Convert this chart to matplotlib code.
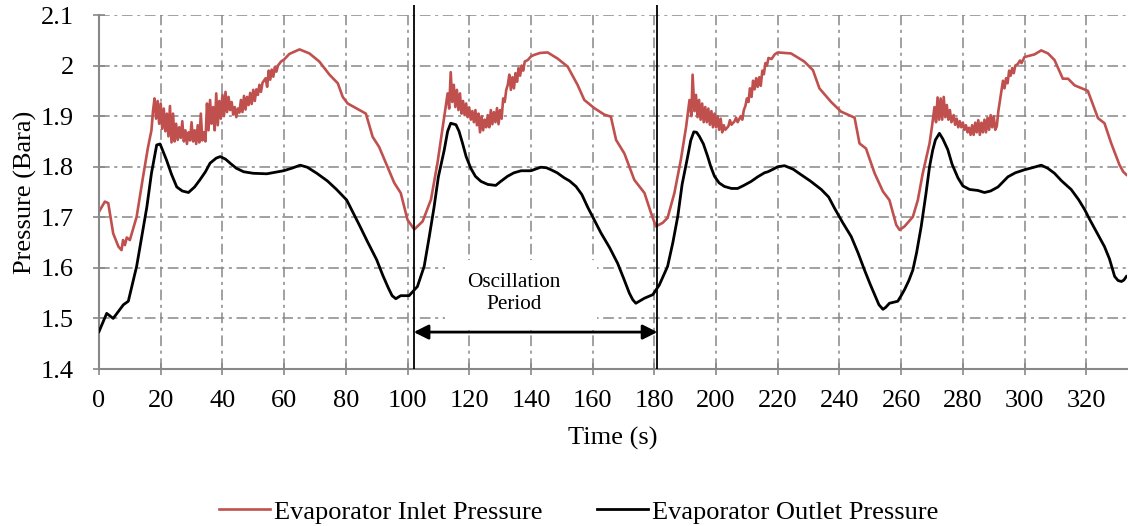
import matplotlib
matplotlib.use("Agg")
import matplotlib.pyplot as plt
from matplotlib.patches import Rectangle

plt.rcParams['font.family'] = ['Liberation Serif', 'DejaVu Serif']

# ---------------- data ----------------
outlet_t = [0, 2.5, 4.6, 7.9, 9.5, 12.2, 15.5, 17, 18.7, 19.8, 20.8, 21.9, 23.5, 25.2, 27, 29,
            31, 32.7, 34.5, 36, 38, 39.3, 41, 42.5, 44.5, 46.9, 50, 54.4, 59.8, 62.5, 65.2,
            67.5, 70.6, 74, 77, 80.3, 84.6, 87, 90, 92, 93.8, 95, 96.2, 97.8, 100.5,
            103.2, 105.4, 107, 108.6, 110, 111.9, 113, 114, 115.7, 116.7, 117.8, 119, 120.5,
            122, 123.8, 126, 128.6, 130, 132.4, 134.5, 136.8, 138, 140, 143.2, 145, 146.5,
            148.5, 150.8, 152.5, 154.6, 156.5, 158.4, 160.5, 162.7, 165.5, 168.1, 170, 171.9,
            173, 174, 176.8, 179.5, 181.6, 184.3, 186, 187.6, 189, 190.8, 191.8, 192.8, 193.7,
            194.6, 195.9, 197.3, 198.3, 199.5, 201, 202.7, 205, 207, 209, 211.4, 213.5, 215.7,
            216.8, 218.5, 220, 222.2, 225, 227.6, 230.5, 234.1, 236.5, 238.4, 241, 243.8, 246,
            248.1, 250, 251.4, 252.8, 254.1, 255, 256.2, 257.5, 258.9, 260, 261.1, 262.5,
            263.8, 265, 266.5, 268, 269.2, 270.2, 271.1, 272.4, 273.5, 275.1, 276.5, 278.4,
            280, 282.2, 284.9, 287, 289, 291.4, 294.6, 297, 300, 302.5, 305.4, 307.5, 309.7,
            312, 315.1, 317.5, 319.5, 321, 322.7, 324.3, 325.9, 327.5, 329.2, 330.3, 331.4,
            332.2, 333]
outlet_p = [1.474, 1.51, 1.50, 1.527, 1.534, 1.603, 1.72, 1.787, 1.843, 1.845, 1.83, 1.813,
            1.785, 1.76, 1.752, 1.749, 1.76, 1.774, 1.79, 1.807, 1.817, 1.82, 1.815, 1.807,
            1.797, 1.79, 1.787, 1.786, 1.792, 1.797, 1.803, 1.799, 1.787, 1.772, 1.755, 1.734,
            1.682, 1.652, 1.616, 1.585, 1.560, 1.545, 1.539, 1.545, 1.545, 1.563, 1.603, 1.66,
            1.72, 1.78, 1.833, 1.87, 1.886, 1.883, 1.87, 1.847, 1.82, 1.797, 1.781, 1.771,
            1.765, 1.763, 1.77, 1.781, 1.788, 1.792, 1.792, 1.792, 1.799, 1.798, 1.794, 1.788,
            1.778, 1.772, 1.761, 1.745, 1.72, 1.695, 1.669, 1.64, 1.609, 1.58, 1.55, 1.537,
            1.53, 1.54, 1.547, 1.566, 1.603, 1.65, 1.702, 1.765, 1.82, 1.852, 1.869, 1.868,
            1.86, 1.845, 1.82, 1.80, 1.781, 1.768, 1.761, 1.757, 1.757, 1.763, 1.771, 1.78,
            1.788, 1.79, 1.795, 1.80, 1.802, 1.795, 1.784, 1.772, 1.755, 1.74, 1.718, 1.69,
            1.662, 1.63, 1.596, 1.567, 1.547, 1.527, 1.518, 1.522, 1.53, 1.532, 1.534, 1.545,
            1.557, 1.575, 1.596, 1.63, 1.682, 1.745, 1.80, 1.832, 1.853, 1.866, 1.855, 1.834,
            1.805, 1.778, 1.762, 1.755, 1.753, 1.749, 1.752, 1.76, 1.78, 1.788, 1.794, 1.798,
            1.803, 1.797, 1.787, 1.772, 1.755, 1.735, 1.715, 1.697, 1.678, 1.66, 1.642, 1.618,
            1.583, 1.575, 1.573, 1.576, 1.583]

inlet_t = [0, 1.9, 3, 4.6, 6.3, 7.3, 7.8, 8.4, 9.0, 10, 12.2, 14.3, 15.9,
           17.0, 17.5, 18.0, 18.5, 19.0, 19.5, 20.0, 20.5, 21.0, 21.5, 22.0, 22.5, 23.0, 23.5,
           24.0, 24.5, 25.0, 25.5, 26.0, 26.5, 27.0, 27.5, 28.0, 28.5, 29.0, 29.5, 30.0, 30.5,
           31.0, 31.5, 32.0, 32.5, 33.0, 33.5, 34.0, 34.5, 35.0, 35.5, 36.0, 36.5, 37.0, 37.5,
           38.0, 38.5, 39.0, 39.5, 40.0, 40.5, 41.0, 41.5, 42.0, 42.5, 43.0, 43.5, 44.0, 44.5,
           45.0, 45.5, 46.0, 46.5, 47.0, 47.5, 48.0, 48.5, 49.0, 49.5, 50.0, 50.5, 51.0, 51.5,
           52.0, 52.5, 53.0, 54.0, 54.5, 55.0, 55.5, 56.0, 56.5, 57.0, 57.5, 58.0, 59.0, 60.0,
           61.7, 65, 68.2, 71.4, 74.7, 77.4, 79, 80.6, 84.4, 86.5, 88.7, 90.8, 93.5, 95.7,
           97.8, 100, 102.2, 104.9, 107.6, 109.7, 111.9,
           112.5, 113, 113.5, 114, 114.5, 115, 115.5, 116, 116.5, 117, 117.5, 118, 118.5, 119,
           119.5, 120, 120.5, 121, 121.5, 122, 122.5, 123, 123.5, 124, 124.5, 125, 125.5, 126,
           126.5, 127, 127.5, 128, 128.5, 129, 129.5, 130, 130.5, 131, 131.5, 132, 132.5, 133,
           133.5, 134, 134.5, 135, 135.5, 136, 136.5, 137, 137.5, 138, 139, 140, 141, 143,
           145.4, 148.6, 151.9, 155.1, 157.3, 160.5, 163.8, 165.9, 167.6, 170.3, 173.5, 176.8,
           178.9, 180.5, 182.7, 184.3, 186.5, 188.6, 190.3, 191.4, 192, 192.4, 193, 193.5, 194,
           194.5, 195, 195.5, 196, 196.5, 197, 197.5, 198, 198.5, 199, 199.5, 200, 200.5, 201,
           201.5, 202, 202.5, 203, 204, 204.5, 205, 206, 206.5, 207, 208, 208.5, 209, 209.5,
           210, 210.5, 211, 211.5, 212, 212.5, 213, 213.5, 214, 214.5, 215, 215.5, 216, 216.5,
           217, 218, 219, 220, 224.3, 228.6, 231.4, 233.5, 237.3, 240.5, 244.9, 246.5, 248.6,
           251.4, 254.1, 256.2, 258.4, 259.5, 261.1, 263.8, 265.4, 267, 269.2, 270, 270.8,
           271.3, 271.8, 272.3, 272.8, 273.3, 273.8, 274.3, 274.8, 275.3, 275.8, 276.3, 277,
           277.5, 278, 278.5, 279, 279.5, 280, 280.5, 281, 281.5, 282, 282.5, 283, 283.5, 284,
           284.5, 285, 285.5, 286, 286.5, 287, 287.5, 288, 288.5, 289, 289.5, 290, 290.5, 291,
           291.5, 292, 292.5, 293, 293.5, 294, 294.5, 295, 295.5, 296, 296.5, 297, 297.8, 298.5,
           299, 300, 303.2, 305.4, 307.6, 309.7, 312.4, 314.1, 316.2, 320.5, 321.6, 323.8,
           325.9, 328.1, 330.8, 332, 333]
inlet_p = [1.711, 1.731, 1.728, 1.668, 1.642, 1.635, 1.655, 1.645, 1.66, 1.655, 1.701, 1.781,
           1.839,
           1.872, 1.91, 1.935, 1.895, 1.93, 1.885, 1.925, 1.875, 1.915, 1.87, 1.905, 1.86,
           1.92, 1.848, 1.905, 1.85, 1.885, 1.853, 1.878, 1.857, 1.89, 1.85, 1.872, 1.845,
           1.868, 1.852, 1.888, 1.85, 1.872, 1.845, 1.882, 1.848, 1.905, 1.852, 1.868, 1.85,
           1.925, 1.872, 1.932, 1.885, 1.918, 1.872, 1.945, 1.882, 1.93, 1.895, 1.942, 1.9,
           1.948, 1.908, 1.938, 1.912, 1.928, 1.903, 1.918, 1.898, 1.915, 1.907, 1.932, 1.908,
           1.94, 1.913, 1.938, 1.922, 1.946, 1.924, 1.952, 1.93, 1.953, 1.942, 1.962, 1.948,
           1.966, 1.975, 1.958, 1.99, 1.972, 1.992, 1.978, 1.997, 1.988, 2.0, 2.008, 2.012,
           2.023, 2.032, 2.024, 2.008, 1.982, 1.965, 1.938, 1.925, 1.912, 1.905, 1.859, 1.839,
           1.80, 1.768, 1.748, 1.695, 1.676, 1.692, 1.735, 1.807, 1.899,
           1.925, 1.945, 1.915, 1.987, 1.928, 1.962, 1.918, 1.952, 1.912, 1.945, 1.905, 1.93,
           1.902, 1.925, 1.898, 1.917, 1.893, 1.91, 1.888, 1.912, 1.882, 1.905, 1.868, 1.9,
           1.872, 1.893, 1.878, 1.902, 1.878, 1.912, 1.884, 1.908, 1.888, 1.916, 1.884, 1.912,
           1.895, 1.935, 1.928, 1.952, 1.962, 1.982, 1.952, 1.977, 1.955, 1.985, 1.968, 1.995,
           1.98, 2.0, 1.99, 2.008, 2.011, 2.018, 2.021, 2.025,
           2.026, 2.014, 1.998, 1.962, 1.932, 1.916, 1.903, 1.899, 1.853, 1.826, 1.774, 1.748,
           1.709, 1.682, 1.689, 1.699, 1.748, 1.814, 1.879, 1.932, 1.90, 1.982, 1.91, 1.942,
           1.898, 1.932, 1.893, 1.925, 1.888, 1.918, 1.888, 1.915, 1.883, 1.91, 1.878, 1.905,
           1.878, 1.90, 1.873, 1.895, 1.868, 1.882, 1.873, 1.88, 1.892, 1.883, 1.89, 1.897,
           1.888, 1.90, 1.893, 1.912, 1.92, 1.935, 1.928, 1.955, 1.938, 1.97, 1.953, 1.975,
           1.958, 1.977, 1.96, 1.99, 1.983, 2.005, 2.0, 2.015, 2.013, 2.022, 2.026,
           2.024, 2.008, 1.991, 1.955, 1.928, 1.909, 1.897, 1.846, 1.836, 1.787, 1.751, 1.734,
           1.685, 1.675, 1.682, 1.701, 1.734, 1.787, 1.846, 1.88, 1.918, 1.888, 1.937, 1.893,
           1.935, 1.893, 1.938, 1.898, 1.922, 1.893, 1.912, 1.888, 1.902, 1.883, 1.895, 1.878,
           1.89, 1.878, 1.887, 1.873, 1.882, 1.868, 1.877, 1.863, 1.882, 1.863, 1.887, 1.868,
           1.892, 1.863, 1.887, 1.868, 1.893, 1.868, 1.897, 1.873, 1.902, 1.878, 1.90, 1.873,
           1.88, 1.91, 1.93, 1.95, 1.97, 1.955, 1.975, 1.965, 1.99, 1.98, 1.995, 1.985, 2.0,
           2.003, 2.01, 2.005, 2.017, 2.022, 2.03, 2.024, 2.011, 1.974, 1.974, 1.961, 1.95,
           1.932, 1.896, 1.886, 1.846, 1.803, 1.79, 1.784]

x_ticks = list(range(0, 321, 20))
y_ticks = [1.4, 1.5, 1.6, 1.7, 1.8, 1.9, 2.0, 2.1]
y_tick_labels = ['1.4', '1.5', '1.6', '1.7', '1.8', '1.9', '2', '2.1']
period_start, period_end = 102, 181
arrow_y = 1.473

# ---------------- figure ----------------
fig = plt.figure(figsize=(11.28, 5.26), dpi=100)
ax = fig.add_axes([99/1128, 1 - 369/526, 1028/1128, (369 - 15)/526])

grid_c = '#888888'
ax.set_axisbelow(True)
ax.grid(True, color=grid_c, linestyle=(0, (7, 3, 2, 3)), linewidth=1.1)

# white box behind annotation text
ax.add_patch(Rectangle((112, 1.478), 49.5, 0.138, facecolor='white', edgecolor='none', zorder=1))

ax.plot(inlet_t, inlet_p, color='#C0504D', lw=1.9, label='Evaporator Inlet Pressure', zorder=2)
ax.plot(outlet_t, outlet_p, color='black', lw=2.0, label='Evaporator Outlet Pressure', zorder=3)

ax.vlines([period_start, period_end], 1.4, 2.12, colors='black', lw=1.3, clip_on=False, zorder=4)
ax.annotate('', xy=(period_start, arrow_y), xytext=(period_end, arrow_y),
            arrowprops=dict(arrowstyle='<|-|>', color='black', lw=2.0, mutation_scale=22,
                            shrinkA=0, shrinkB=0), zorder=5)
ax.text(134.5, 1.55, 'Oscillation\nPeriod', ha='center', va='center', fontsize=15.3,
        linespacing=1.2, zorder=5)

ax.set_xlim(0, 333.2)
ax.set_ylim(1.4, 2.1)
ax.set_xticks(x_ticks)
ax.set_yticks(y_ticks)
ax.set_yticklabels(y_tick_labels)

for s in ['top', 'right']:
    ax.spines[s].set_visible(False)
for s in ['left', 'bottom']:
    ax.spines[s].set_color(grid_c)
    ax.spines[s].set_linewidth(1.5)
ax.tick_params(axis='both', direction='inout', length=8, width=1.2, color=grid_c,
               labelsize=19, labelcolor='black')
ax.tick_params(axis='x', pad=11)
ax.tick_params(axis='y', pad=14)

ax.set_xlabel('Time (s)', fontsize=19, labelpad=11)
ax.set_ylabel('Pressure (Bara)', fontsize=19, labelpad=3)

fig.legend(loc='center', bbox_to_anchor=(0.513, 0.027), ncol=2, frameon=False, fontsize=19,
           handlelength=1.9, handletextpad=0.15, columnspacing=2.1)

fig.savefig('out.png', dpi=100)
